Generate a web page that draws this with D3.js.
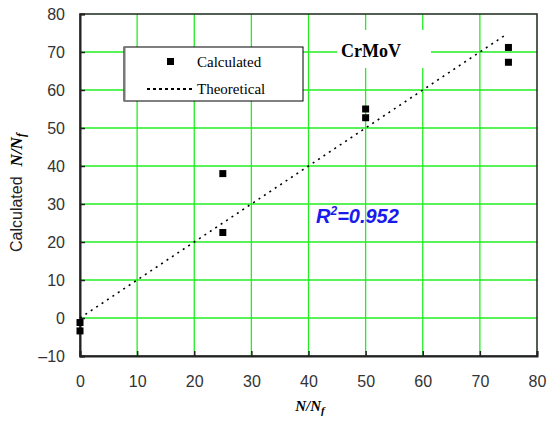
<!DOCTYPE html>
<html>
<head>
<meta charset="utf-8">
<script src="https://cdn.jsdelivr.net/npm/d3@7"></script>
<style>
  body { margin: 0; background: #fff; }
</style>
</head>
<body>
<div id="chart"></div>
<script>
    var calcX = [0, 0, 25, 25, 50, 50, 75, 75];
    var calcY = [-1.2, -3.4, 38, 22.5, 55, 52.7, 71.2, 67.3];
    var theoX = [0, 74.5];
    var theoY = [0, 74.5];
    var xTicks = [0, 10, 20, 30, 40, 50, 60, 70, 80];
    var yTicks = [-10, 0, 10, 20, 30, 40, 50, 60, 70, 80];

    var width = 547,
        height = 421;
    var margin = {left: 80, right: 10, top: 14, bottom: 65};

    var svg = d3.select("#chart")
        .append("svg")
        .attr("width", width)
        .attr("height", height)
        .style("font-family", "Arial, 'Liberation Sans', sans-serif");

    var x = d3.scaleLinear().domain([0, 80]).range([margin.left, 537]);
    var y = d3.scaleLinear().domain([-10, 80]).range([356, margin.top]);

    // grid
    svg.append("g")
        .selectAll("line")
        .data(xTicks.slice(1, -1))
        .enter().append("line")
        .attr("x1", function(d) { return x(d) })
        .attr("x2", function(d) { return x(d) })
        .attr("y1", y(80))
        .attr("y2", y(-10))
        .attr("stroke", "#22ee22")
        .attr("stroke-width", 1.3)

    svg.append("g")
        .selectAll("line")
        .data(yTicks.slice(1, -1))
        .enter().append("line")
        .attr("x1", x(0))
        .attr("x2", x(80))
        .attr("y1", function(d) { return y(d) })
        .attr("y2", function(d) { return y(d) })
        .attr("stroke", "#22ee22")
        .attr("stroke-width", 1.3)

    // frame
    svg.append("rect")
        .attr("x", x(0))
        .attr("y", y(80))
        .attr("width", x(80) - x(0))
        .attr("height", y(-10) - y(80))
        .attr("fill", "none")
        .attr("stroke", "#1a2a1a")
        .attr("stroke-width", 1.5)

    // axes
    var xAxis = d3.axisBottom(x).tickValues(xTicks).tickSize(-5).tickPadding(20);
    var gx = svg.append("g")
        .attr("transform", "translate(0," + y(-10) + ")")
        .call(xAxis)
    gx.select(".domain").attr("stroke", "#222").attr("stroke-width", 2)
    gx.selectAll(".tick line").attr("stroke", "#222").attr("stroke-width", 1.5)
    gx.selectAll("text")
        .attr("font-size", 16)
        .attr("fill", "#333")
        .attr("font-family", "Arial, 'Liberation Sans', sans-serif")
        .text(function(d) { return d })

    var yAxis = d3.axisLeft(y).tickValues(yTicks).tickSize(-5).tickPadding(15);
    var gy = svg.append("g")
        .attr("transform", "translate(" + x(0) + ",0)")
        .call(yAxis)
    gy.select(".domain").attr("stroke", "#222").attr("stroke-width", 2)
    gy.selectAll(".tick line").attr("stroke", "#222").attr("stroke-width", 1.5)
    gy.selectAll("text")
        .attr("font-size", 16)
        .attr("fill", "#333")
        .attr("font-family", "Arial, 'Liberation Sans', sans-serif")
        .text(function(d) { return d < 0 ? "\u2013" + Math.abs(d) : d })

    // theoretical line
    var line = d3.line()
        .x(function(d) { return x(d[0]) })
        .y(function(d) { return y(d[1]) })
    svg.append("path")
        .datum(d3.zip(theoX, theoY))
        .attr("d", line)
        .attr("fill", "none")
        .attr("stroke", "#000")
        .attr("stroke-width", 1.6)
        .attr("stroke-dasharray", "2,4.5")

    // calculated points
    svg.selectAll(".calc")
        .data(d3.zip(calcX, calcY))
        .enter().append("rect")
        .attr("class", "calc")
        .attr("x", function(d) { return x(d[0]) - 3.5 })
        .attr("y", function(d) { return y(d[1]) - 3.5 })
        .attr("width", 7)
        .attr("height", 7)
        .attr("fill", "#000")

    // CrMoV label
    svg.append("rect")
        .attr("x", 337).attr("y", 30)
        .attr("width", 94).attr("height", 38)
        .attr("fill", "#fff")
    svg.append("text")
        .attr("x", 371).attr("y", 57)
        .attr("text-anchor", "middle")
        .attr("font-family", "'Times New Roman', 'Liberation Serif', serif")
        .attr("font-weight", "bold")
        .attr("font-size", 18)
        .text("CrMoV")

    // legend
    var lg = svg.append("g")
    lg.append("rect")
        .attr("x", 124).attr("y", 47)
        .attr("width", 179).attr("height", 54)
        .attr("fill", "#fff")
        .attr("stroke", "#000")
        .attr("stroke-width", 1)
    lg.append("line")
        .attr("x1", 124.5).attr("x2", 124.5)
        .attr("y1", 47).attr("y2", 101)
        .attr("stroke", "#777").attr("stroke-width", 2)
    lg.append("rect")
        .attr("x", 167).attr("y", 58)
        .attr("width", 7).attr("height", 7)
        .attr("fill", "#000")
    lg.append("text")
        .attr("x", 197).attr("y", 67)
        .attr("font-family", "'Times New Roman', 'Liberation Serif', serif")
        .attr("font-size", 15)
        .text("Calculated")
    lg.append("line")
        .attr("x1", 147).attr("x2", 193)
        .attr("y1", 89).attr("y2", 89)
        .attr("stroke", "#000").attr("stroke-width", 1.8)
        .attr("stroke-dasharray", "3,3")
    lg.append("text")
        .attr("x", 197).attr("y", 94)
        .attr("font-family", "'Times New Roman', 'Liberation Serif', serif")
        .attr("font-size", 15)
        .text("Theoretical")

    // R^2
    var r2 = svg.append("text")
        .attr("x", 316).attr("y", 223)
        .attr("fill", "#1a1aee")
        .attr("font-weight", "bold")
        .attr("font-style", "italic")
        .attr("font-size", 20)
    r2.append("tspan").text("R")
    r2.append("tspan").attr("font-size", 12).attr("dy", -8).text("2")
    r2.append("tspan").attr("dy", 8).text("=0.952")

    // x label
    var xl = svg.append("text")
        .attr("x", 310).attr("y", 411)
        .attr("text-anchor", "middle")
        .attr("font-family", "'Times New Roman', 'Liberation Serif', serif")
        .attr("font-weight", "bold")
        .attr("font-style", "italic")
        .attr("font-size", 15)
    xl.append("tspan").text("N/N")
    xl.append("tspan").attr("font-size", 11).attr("dy", 3).text("f")

    // y label
    var yl = svg.append("text")
        .attr("transform", "translate(22,252) rotate(-90)")
        .attr("text-anchor", "start")
        .attr("font-size", 16)
        .attr("fill", "#222")
    yl.append("tspan").text("Calculated")
    yl.append("tspan")
        .attr("dx", 10)
        .attr("font-family", "'Times New Roman', 'Liberation Serif', serif")
        .attr("font-weight", "bold")
        .attr("font-style", "italic")
        .attr("font-size", 17)
        .attr("fill", "#000")
        .text("N/N")
    yl.append("tspan")
        .attr("font-family", "'Times New Roman', 'Liberation Serif', serif")
        .attr("font-weight", "bold")
        .attr("font-style", "italic")
        .attr("font-size", 12)
        .attr("dy", 3)
        .attr("fill", "#000")
        .text("f")
</script>
</body>
</html>
